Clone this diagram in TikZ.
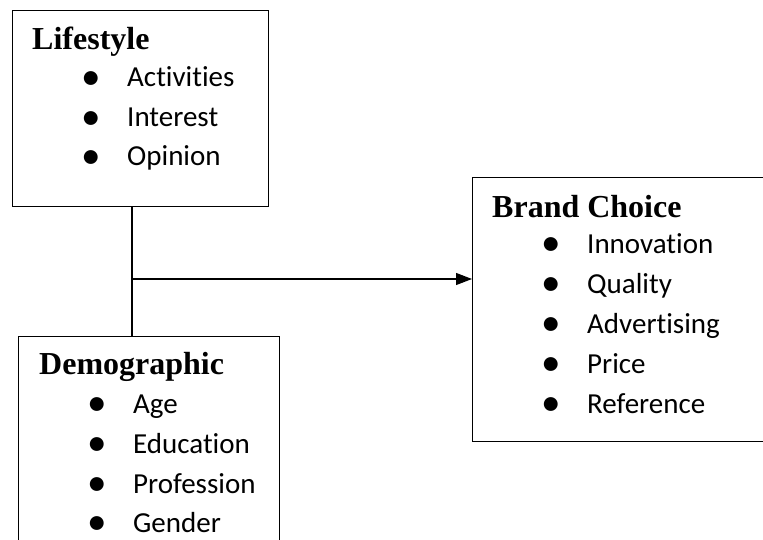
\documentclass[tikz,border=0pt]{standalone}
\usepackage{fontspec}
\setmainfont{Liberation Serif}
\newfontfamily\calfont[Ligatures=NoCommon]{Carlito}
\usetikzlibrary{arrows.meta}
\tikzset{
  box/.style={draw=black, line width=1.2pt, fill=none, inner sep=0pt, anchor=north west},
  ttl/.style={anchor=base west, inner sep=0pt, font=\fontsize{32}{32}\selectfont\bfseries},
  itm/.style={anchor=base west, inner sep=0pt, font=\calfont\fontsize{29}{29}\selectfont},
  conn/.style={line width=1.2pt},
}
\newcommand{\bitem}[1]{\makebox[46pt][l]{\raisebox{-2.5pt}{\scalebox{1.35}{•}}}#1}
\begin{document}
\begin{tikzpicture}[x=1pt,y=-1pt]
\useasboundingbox (0,0) rectangle (763,540);
\clip (0,0) rectangle (763,540);
% boxes
\node[box, minimum width=256pt, minimum height=196pt] (life) at (12,10) {};
\node[box, minimum width=261pt, minimum height=240pt] (demo) at (18,336) {};
\node[box, minimum width=320pt, minimum height=264pt] (brand) at (472,177) {};
% Lifestyle text
\node[ttl] (lt) at (32,50) {Lifestyle};
\node[itm] (l1) at (81,87) {\bitem{Activities}};
\node[itm] (l2) at (81,127) {\bitem{Interest}};
\node[itm] (l3) at (81,166) {\bitem{Opinion}};
% Demographic text
\node[ttl] (dt) at (39,374) {Demographic};
\node[itm] (d1) at (87,413) {\bitem{Age}};
\node[itm] (d2) at (87,453) {\bitem{Education}};
\node[itm] (d3) at (87,493) {\bitem{Profession}};
\node[itm, text depth=0pt] (d4) at (87,532) {\bitem{Gender}};
% Brand text
\node[ttl] (bt) at (492,218) {Brand Choice};
\node[itm] (b1) at (541,253) {\bitem{Innovation}};
\node[itm] (b2) at (541,293) {\bitem{Quality}};
\node[itm] (b3) at (541,333) {\bitem{Advertising}};
\node[itm] (b4) at (541,373) {\bitem{Price}};
\node[itm] (b5) at (541,413) {\bitem{Reference}};
% connectors
\coordinate (j) at (132,279);
\draw[conn] (life.south -| j) -- (demo.north -| j);
\draw[conn, -{Triangle[length=16pt,width=12pt]}] (j) -- (j -| brand.west);
\end{tikzpicture}
\end{document}
